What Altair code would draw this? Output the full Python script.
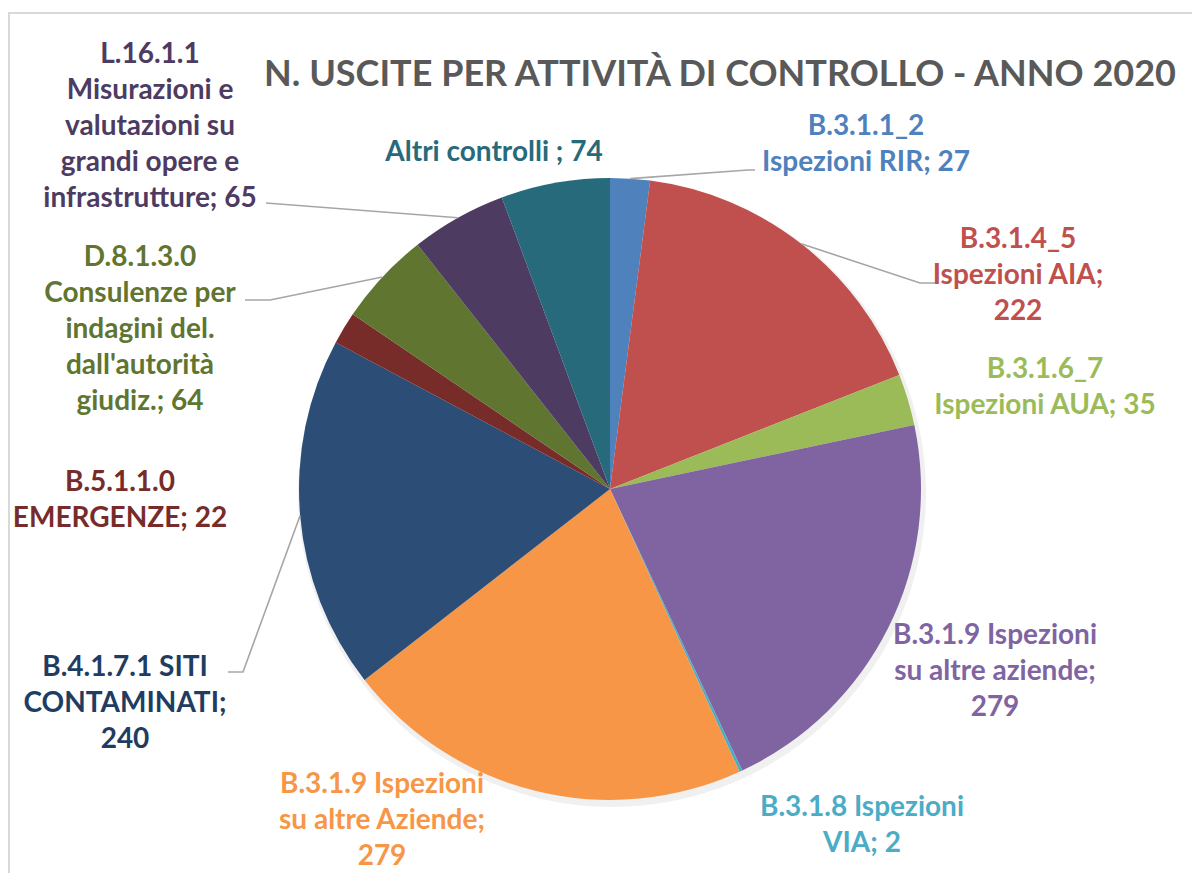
import math
import altair as alt
import pandas as pd

# ---------------- data ----------------
categories = [
    "B.3.1.1_2 Ispezioni RIR",
    "B.3.1.4_5 Ispezioni AIA",
    "B.3.1.6_7 Ispezioni AUA",
    "B.3.1.9 Ispezioni su altre aziende",
    "B.3.1.8 Ispezioni VIA",
    "B.3.1.9 Ispezioni su altre Aziende",
    "B.4.1.7.1 SITI CONTAMINATI",
    "B.5.1.1.0 EMERGENZE",
    "D.8.1.3.0 Consulenze per indagini del. dall'autorità giudiz.",
    "L.16.1.1 Misurazioni e valutazioni su grandi opere e infrastrutture",
    "Altri controlli",
]
values = [27, 222, 35, 279, 2, 279, 240, 22, 64, 65, 74]
label_templates = [
    ["B.3.1.1_2", "Ispezioni RIR; {v}"],
    ["B.3.1.4_5", "Ispezioni AIA;", "{v}"],
    ["B.3.1.6_7", "Ispezioni AUA; {v}"],
    ["B.3.1.9  Ispezioni", "su altre aziende;", "{v}"],
    ["B.3.1.8 Ispezioni", "VIA; {v}"],
    ["B.3.1.9 Ispezioni", "su altre Aziende;", "{v}"],
    ["B.4.1.7.1 SITI", "CONTAMINATI;", "{v}"],
    ["B.5.1.1.0", "EMERGENZE; {v}"],
    ["D.8.1.3.0", "Consulenze per", "indagini del.", "dall'autorità", "giudiz.; {v}"],
    ["L.16.1.1", "Misurazioni e", "valutazioni su", "grandi opere e", "infrastrutture; {v}"],
    ["Altri controlli ; {v}"],
]
title_text = "N. USCITE PER ATTIVITÀ DI CONTROLLO - ANNO 2020"

# ---------------- styles / layout ----------------
slice_colors = ["#4F81BD", "#C0504D", "#9BBB59", "#8064A2", "#4BACC6", "#F79646",
                "#2C4D75", "#772C2A", "#5F7530", "#4D3B62", "#276A7C"]
text_colors = ["#4F81BD", "#C0504D", "#9BBB59", "#8064A2", "#4BACC6", "#F79646",
               "#1F3D63", "#772C2A", "#5F7530", "#4D3B62", "#276A7C"]

W, H = 1184, 865          # chart size (page minus 8px margin)
OFF = 8                   # page margin
CX, CY, R = 610, 489, 311  # pie centre / radius in page pixels
LINE_H = 36
FONT = "Lato"
FS = 28

# label anchor (centre x, first-line centre y) in page pixels
label_anchor = [(866, 127), (1018, 240), (1045, 370), (995, 636), (862, 808),
                (382, 785), (125, 668), (120, 483), (140, 258), (150, 55), (494, 153)]
# leader-line outer points (page pixels), pie end computed from slice angle
leader_outer = {
    0: [(755, 170), (748, 170)],
    1: [(935, 283), (920, 283)],
    6: [(228, 672), (243, 672)],
    8: [(245, 300), (270, 300)],
    9: [(266, 203)],
}

# ---------------- build tables ----------------
n = len(values)
total = sum(values)
pie_df = pd.DataFrame({"cat": categories, "value": values, "idx": list(range(n))})

rows = []
for i, lines in enumerate(label_templates):
    cx, y0 = label_anchor[i]
    for j, t in enumerate(lines):
        rows.append({"cat": categories[i], "text": t.format(v=values[i]),
                     "x": cx, "y": y0 + j * LINE_H})
text_df = pd.DataFrame(rows)

cum = 0
mids = []
for v in values:
    mids.append((cum + v / 2) / total * 2 * math.pi)
    cum += v

lrows = []
for i, pts in leader_outer.items():
    a = mids[i]
    px = CX + R * math.sin(a)
    py = CY - R * math.cos(a)
    allp = pts + [(px, py)]
    for k, (x, y) in enumerate(allp):
        lrows.append({"line": i, "k": k, "x": x, "y": y})
lead_df = pd.DataFrame(lrows)

xs = alt.Scale(domain=[OFF, OFF + W], range=[0, W])
ys = alt.Scale(domain=[OFF, OFF + H], range=[0, H])

color_scale = alt.Scale(domain=categories, range=slice_colors)
text_scale = alt.Scale(domain=categories, range=text_colors)

# shadow behind pie
shadow = alt.Chart(pie_df).mark_arc(radius=R + 3, color="#000000", opacity=0.06).encode(
    theta=alt.Theta("value:Q", stack=True),
    x=alt.value(CX - OFF + 2), y=alt.value(CY - OFF + 4),
)

pie = alt.Chart(pie_df).mark_arc(radius=R).encode(
    theta=alt.Theta("value:Q", stack=True),
    order=alt.Order("idx:Q"),
    color=alt.Color("cat:N", scale=color_scale, legend=None),
    x=alt.value(CX - OFF), y=alt.value(CY - OFF),
)

leaders = alt.Chart(lead_df).mark_line(color="#A6A6A6", strokeWidth=1.6).encode(
    x=alt.X("x:Q", scale=xs, axis=None),
    y=alt.Y("y:Q", scale=ys, axis=None),
    detail="line:N",
    order="k:Q",
)

labels = alt.Chart(text_df).mark_text(font=FONT, fontSize=FS, fontWeight="bold",
                                      align="center", baseline="middle").encode(
    x=alt.X("x:Q", scale=xs, axis=None),
    y=alt.Y("y:Q", scale=ys, axis=None),
    text="text:N",
    color=alt.Color("cat:N", scale=text_scale, legend=None),
)

title = alt.Chart(pd.DataFrame({"t": [title_text], "x": [720], "y": [75]})).mark_text(
    font=FONT, fontSize=36, fontWeight="bold", color="#595959",
    align="center", baseline="middle").encode(
    x=alt.X("x:Q", scale=xs, axis=None),
    y=alt.Y("y:Q", scale=ys, axis=None),
    text="t:N",
)

frame_top = alt.Chart(pd.DataFrame({"a": [0]})).mark_rule(color="#D9D9D9", strokeWidth=2).encode(
    x=alt.value(0), x2=alt.value(W), y=alt.value(13 - OFF))
frame_left = alt.Chart(pd.DataFrame({"a": [0]})).mark_rule(color="#D9D9D9", strokeWidth=2).encode(
    x=alt.value(1), y=alt.value(13 - OFF), y2=alt.value(H))

chart = alt.layer(frame_top, frame_left, shadow, pie, leaders, labels, title).resolve_scale(
    color="independent"
).properties(
    width=W, height=H, padding=0, autosize=alt.AutoSizeParams(type="none"),
    background="white",
).configure_view(strokeWidth=0)

chart.save("out.html", embed_options={"renderer": "svg", "actions": False})
